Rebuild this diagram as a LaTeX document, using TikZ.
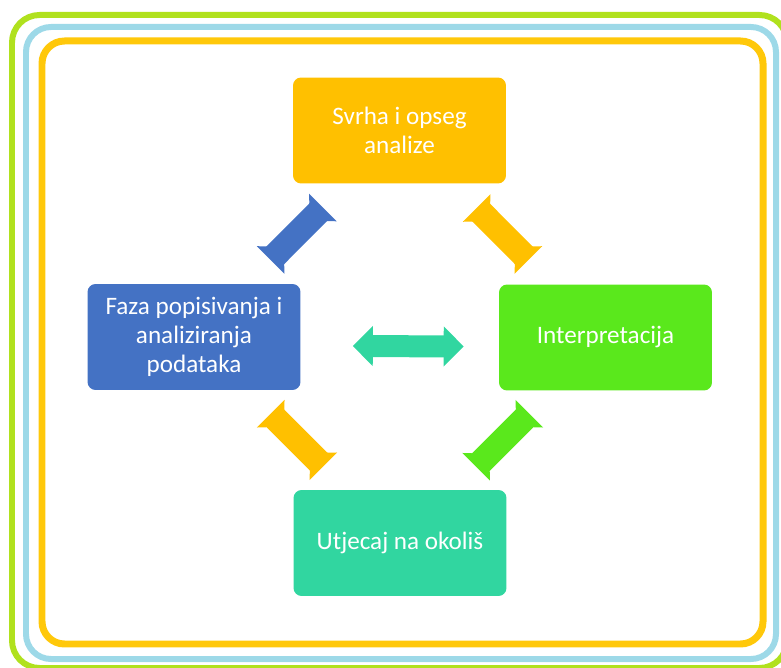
\documentclass[tikz,border=0pt]{standalone}
\usepackage{fontspec}
\setmainfont{Carlito}
\usetikzlibrary{arrows.meta}
\definecolor{kzuta}{HTML}{FFC000}
\definecolor{kplava}{HTML}{4472C4}
\definecolor{kzelena}{HTML}{5AE81C}
\definecolor{ktirkiz}{HTML}{31D6A0}
\definecolor{rzelena}{HTML}{B0E11E}
\definecolor{rplava}{HTML}{9DD9E8}
\definecolor{rzuta}{HTML}{FFC80A}

\begin{document}
\begin{tikzpicture}[x=0.02cm, y=-0.02cm,
    kutija/.style={rectangle, rounded corners=0.16cm, minimum width=4.26cm, minimum height=2.12cm,
      text=white, align=center, font=\fontsize{14.3}{16.3}\selectfont},
    strelica/.style={line width=0.5cm, {Triangle[width=0.76cm,length=0.37cm]}-{Triangle[width=0.76cm,length=0.37cm]},
      shorten <=1.78cm, shorten >=1.78cm}]
    \useasboundingbox (0,0) rectangle (781,668);
    % okviri
    \draw[rzelena, line width=0.12cm, rounded corners=0.55cm] (12,15) rectangle (787,668);
    \draw[rplava, line width=0.12cm, rounded corners=0.5cm] (26,27) rectangle (776,659);
    \draw[rzuta, line width=0.14cm, rounded corners=0.45cm] (42,41) rectangle (763,644);

    \node[kutija, fill=kzuta] (svrha) at (399.5,130.5) {Svrha i opseg\\analize};
    \node[kutija, fill=kplava] (faza) at (194,337) {Faza popisivanja i\\analiziranja\\podataka};
    \node[kutija, fill=kzelena] (interp) at (605.5,337.5) {Interpretacija};
    \node[kutija, fill=ktirkiz] (utjecaj) at (400,543) {Utjecaj na okoliš};

    \draw[strelica, kplava] (faza) -- (svrha);
    \draw[strelica, kzuta] (svrha) -- (interp);
    \draw[strelica, kzuta] (faza) -- (utjecaj);
    \draw[strelica, kzelena] (interp) -- (utjecaj);
    \draw[strelica, ktirkiz, line width=0.44cm, {Triangle[width=0.78cm,length=0.4cm]}-{Triangle[width=0.78cm,length=0.4cm]},
      shorten <=0pt, shorten >=0pt] ([shift={(52,9)}]faza.east) -- ([shift={(-35,9)}]interp.west);
\end{tikzpicture}
\end{document}
